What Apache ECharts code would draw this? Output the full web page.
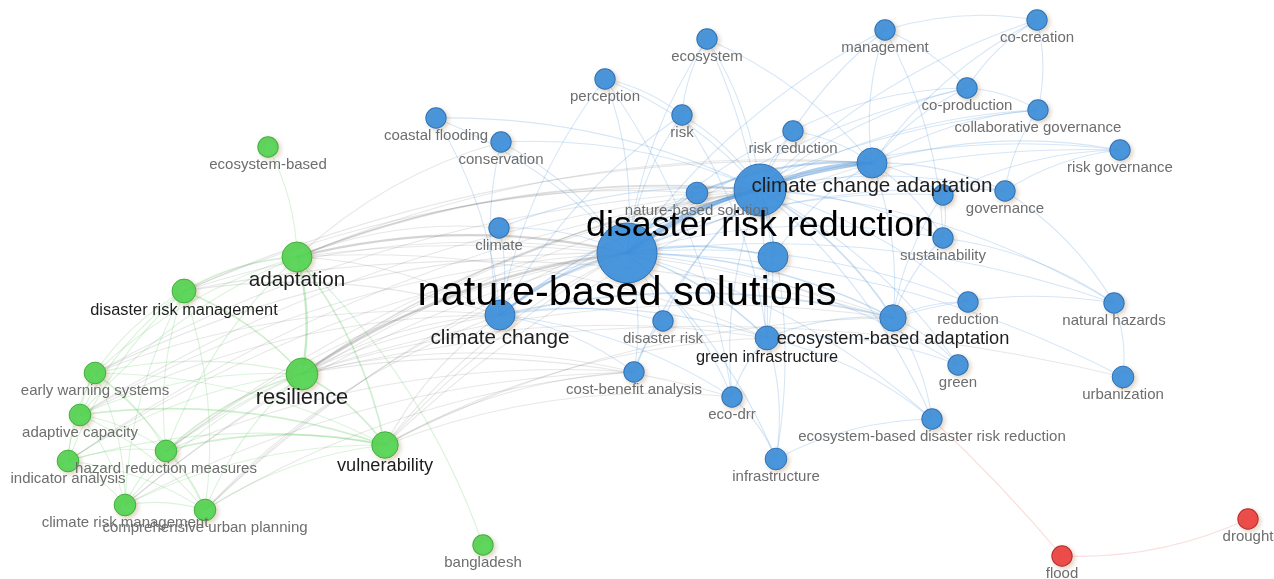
<!DOCTYPE html>
<html><head><meta charset="utf-8">
<script src="https://cdn.jsdelivr.net/npm/echarts@6/dist/echarts.min.js"></script>
<style>html,body{margin:0;padding:0;background:#fff}#c{width:1274px;height:579px}</style>
</head><body><div id="c"></div><script>
// ---- DATA (map coordinates, occurrences, clusters) ----
const nodeNames = [
  'nature-based solutions','disaster risk reduction','climate change adaptation','climate change',
  'ecosystem-based adaptation','green infrastructure','nature-based solution','unlabeled-1','unlabeled-2',
  'ecosystem','management','co-creation','perception','co-production','collaborative governance',
  'coastal flooding','risk','conservation','risk reduction','risk governance','governance','climate',
  'sustainability','reduction','natural hazards','disaster risk','green','urbanization',
  'cost-benefit analysis','eco-drr','ecosystem-based disaster risk reduction','infrastructure',
  'adaptation','resilience','vulnerability','disaster risk management','ecosystem-based',
  'early warning systems','adaptive capacity','hazard reduction measures','indicator analysis',
  'climate risk management','comprehensive urban planning','bangladesh',
  'flood','drought'
];
const nodeX = [627,760,872,500,893,767,697,773,943,707,885,1037,605,967,1038,436,682,501,793,1120,1005,499,943,968,1114,663,958,1123,634,732,932,776,297,302,385,184,268,95,80,166,68,125,205,483,1062,1248];
const nodeY = [253,190,163,315,318,338,193,257,195,39,30,20,79,88,110,118,115,142,131,150,191,228,238,302,303,321,365,377,372,397,419,459,257,374,445,291,147,373,415,451,461,505,510,545,556,519];
const nodeCluster = [1,1,1,1,1,1,1,1,1,1,1,1,1,1,1,1,1,1,1,1,1,1,1,1,1,1,1,1,1,1,1,1,2,2,2,2,2,2,2,2,2,2,2,2,3,3];
const nodeOcc = [100,69,14,14,9,6,4,14,3,3,3,3,3,3,3,3,3,3,3,3,3,3,3,3,3,3,3,4,3,3,3,4,14,17,9,6,3,4,4,4,4,4,4,3,3,3];
const nodeLabelShown = nodeNames.map(n => !n.startsWith('unlabeled'));

const links = [
  // green cluster
  ['adaptation','disaster risk management',2],['adaptation','resilience',3],['adaptation','vulnerability',2],
  ['adaptation','ecosystem-based',1],['adaptation','early warning systems',1],['adaptation','adaptive capacity',1],
  ['adaptation','hazard reduction measures',1],['adaptation','bangladesh',1],
  ['resilience','disaster risk management',2],['resilience','vulnerability',2],['resilience','early warning systems',1],
  ['resilience','adaptive capacity',1],['resilience','hazard reduction measures',2],['resilience','indicator analysis',1],
  ['resilience','climate risk management',1],['resilience','comprehensive urban planning',1],
  ['vulnerability','adaptive capacity',2],['vulnerability','hazard reduction measures',2],['vulnerability','indicator analysis',1],
  ['vulnerability','early warning systems',1],['vulnerability','climate risk management',1],['vulnerability','comprehensive urban planning',1],
  ['disaster risk management','early warning systems',1],['disaster risk management','adaptive capacity',1],
  ['disaster risk management','hazard reduction measures',1],['disaster risk management','indicator analysis',1],
  ['disaster risk management','climate risk management',1],['disaster risk management','comprehensive urban planning',1],
  ['early warning systems','adaptive capacity',1],['early warning systems','hazard reduction measures',1],
  ['early warning systems','indicator analysis',1],['early warning systems','climate risk management',1],
  ['early warning systems','comprehensive urban planning',1],['adaptive capacity','hazard reduction measures',1],
  ['adaptive capacity','indicator analysis',1],['adaptive capacity','climate risk management',1],
  ['adaptive capacity','comprehensive urban planning',1],['hazard reduction measures','indicator analysis',1],
  ['hazard reduction measures','climate risk management',1],['hazard reduction measures','comprehensive urban planning',1],
  ['indicator analysis','climate risk management',1],['indicator analysis','comprehensive urban planning',1],
  ['climate risk management','comprehensive urban planning',1],
  // between clusters
  ['adaptation','nature-based solutions',3],['adaptation','disaster risk reduction',2],['adaptation','climate change adaptation',1],
  ['adaptation','climate change',1],['adaptation','ecosystem-based adaptation',1],['adaptation','climate',1],
  ['adaptation','green infrastructure',1],['adaptation','conservation',1],['adaptation','nature-based solution',1],
  ['resilience','nature-based solutions',3],['resilience','disaster risk reduction',2],['resilience','climate change',1],
  ['resilience','green infrastructure',1],['resilience','urbanization',1],['resilience','climate change adaptation',1],
  ['resilience','ecosystem-based adaptation',1],['resilience','cost-benefit analysis',1],['resilience','eco-drr',1],
  ['vulnerability','nature-based solutions',1],['vulnerability','disaster risk reduction',1],['vulnerability','climate change',1],
  ['vulnerability','climate change adaptation',1],['vulnerability','ecosystem-based adaptation',1],
  ['vulnerability','green infrastructure',1],['vulnerability','eco-drr',1],
  ['disaster risk management','nature-based solutions',1],['disaster risk management','disaster risk reduction',1],
  ['disaster risk management','climate change',1],['disaster risk management','climate change adaptation',1],
  ['disaster risk management','ecosystem-based adaptation',1],
  ['early warning systems','disaster risk reduction',1],['early warning systems','nature-based solutions',1],
  ['early warning systems','climate change',1],
  ['adaptive capacity','nature-based solutions',1],['adaptive capacity','disaster risk reduction',1],['adaptive capacity','climate change',1],
  ['hazard reduction measures','disaster risk reduction',1],['hazard reduction measures','nature-based solutions',1],
  ['hazard reduction measures','climate change',1],['hazard reduction measures','cost-benefit analysis',1],
  ['indicator analysis','nature-based solutions',1],['indicator analysis','disaster risk reduction',1],
  ['climate risk management','disaster risk reduction',1],['climate risk management','nature-based solutions',1],
  ['climate risk management','cost-benefit analysis',1],
  ['comprehensive urban planning','nature-based solutions',1],['comprehensive urban planning','disaster risk reduction',1],
  ['comprehensive urban planning','climate change',1],['comprehensive urban planning','cost-benefit analysis',1],
  ['vulnerability','cost-benefit analysis',1],
  // blue cluster
  ['nature-based solutions','disaster risk reduction',6],['disaster risk reduction','climate change adaptation',4],
  ['nature-based solutions','climate change adaptation',3],['nature-based solutions','nature-based solution',2],
  ['nature-based solution','climate change adaptation',3],['nature-based solutions','climate change',3],
  ['climate change','ecosystem-based adaptation',2],['nature-based solutions','ecosystem-based adaptation',2],
  ['nature-based solutions','unlabeled-1',2],['disaster risk reduction','unlabeled-1',2],
  ['nature-based solutions','green infrastructure',2],['disaster risk reduction','green infrastructure',1],
  ['disaster risk reduction','ecosystem-based adaptation',2],['climate change adaptation','unlabeled-2',1],
  ['climate change adaptation','governance',1],['climate change adaptation','co-production',1],
  ['climate change adaptation','co-creation',1],['climate change adaptation','collaborative governance',1],
  ['climate change adaptation','management',1],['climate change adaptation','risk governance',1],
  ['climate change adaptation','risk reduction',1],['climate change adaptation','sustainability',1],
  ['climate change adaptation','ecosystem-based adaptation',1],['climate change adaptation','climate change',1],
  ['disaster risk reduction','risk reduction',1],['disaster risk reduction','risk',1],['disaster risk reduction','ecosystem',1],
  ['disaster risk reduction','perception',1],['disaster risk reduction','management',1],['disaster risk reduction','co-production',1],
  ['disaster risk reduction','governance',1],['disaster risk reduction','sustainability',1],['disaster risk reduction','reduction',1],
  ['disaster risk reduction','natural hazards',1],['disaster risk reduction','disaster risk',1],
  ['disaster risk reduction','cost-benefit analysis',1],['disaster risk reduction','eco-drr',1],
  ['disaster risk reduction','infrastructure',1],['disaster risk reduction','green',1],
  ['disaster risk reduction','ecosystem-based disaster risk reduction',1],['disaster risk reduction','climate',1],
  ['disaster risk reduction','conservation',1],['disaster risk reduction','coastal flooding',1],
  ['disaster risk reduction','climate change',2],['disaster risk reduction','collaborative governance',1],
  ['disaster risk reduction','risk governance',1],['disaster risk reduction','co-creation',1],
  ['nature-based solutions','ecosystem',1],['nature-based solutions','perception',1],['nature-based solutions','risk',1],
  ['nature-based solutions','conservation',1],['nature-based solutions','coastal flooding',1],['nature-based solutions','climate',1],
  ['nature-based solutions','disaster risk',1],['nature-based solutions','cost-benefit analysis',1],
  ['nature-based solutions','eco-drr',1],['nature-based solutions','infrastructure',1],['nature-based solutions','green',1],
  ['nature-based solutions','ecosystem-based disaster risk reduction',1],['nature-based solutions','reduction',1],
  ['nature-based solutions','natural hazards',1],['nature-based solutions','sustainability',1],
  ['nature-based solutions','governance',1],['nature-based solutions','co-production',1],
  ['nature-based solutions','management',1],['nature-based solutions','risk reduction',1],
  ['nature-based solutions','urbanization',1],['nature-based solutions','risk governance',1],
  ['nature-based solutions','unlabeled-2',1],['nature-based solutions','collaborative governance',1],
  ['management','co-creation',1],['co-creation','co-production',1],['co-creation','collaborative governance',1],
  ['co-production','collaborative governance',1],['management','co-production',1],
  ['collaborative governance','governance',1],['risk governance','governance',1],['risk governance','unlabeled-2',1],
  ['governance','unlabeled-2',1],['ecosystem-based adaptation','ecosystem-based disaster risk reduction',1],
  ['ecosystem-based adaptation','green',1],['ecosystem-based adaptation','reduction',1],
  ['ecosystem-based adaptation','natural hazards',1],['ecosystem-based adaptation','sustainability',1],
  ['green infrastructure','infrastructure',1],['green infrastructure','eco-drr',1],
  ['green infrastructure','ecosystem-based disaster risk reduction',1],['green infrastructure','green',1],
  ['green infrastructure','ecosystem-based adaptation',1],['eco-drr','infrastructure',1],
  ['infrastructure','ecosystem-based disaster risk reduction',1],
  ['ecosystem','risk',1],['ecosystem','climate change adaptation',1],['perception','risk',1],['perception','climate change',1],
  ['conservation','climate change',1],['climate change','disaster risk',1],['climate change','cost-benefit analysis',1],
  ['natural hazards','governance',1],['natural hazards','sustainability',1],['urbanization','natural hazards',1],
  ['climate','climate change',1],['disaster risk','cost-benefit analysis',1],['risk','climate change',1],
  ['unlabeled-1','green infrastructure',1],['unlabeled-1','climate change adaptation',1],
  ['risk reduction','co-production',1],['management','sustainability',1],
  ['climate change','green infrastructure',1],['climate change','eco-drr',1],['coastal flooding','climate change',1],
  ['ecosystem','green infrastructure',1],['risk','green infrastructure',1],['perception','eco-drr',1],
  ['unlabeled-2','sustainability',1],['unlabeled-2','ecosystem-based adaptation',1],
  // red cluster
  ['ecosystem-based disaster risk reduction','flood',1],['flood','drought',1]
];

// ---- STYLE ----
const fill = {1:'rgba(60,144,222,0.92)', 2:'rgba(84,214,84,0.92)', 3:'rgba(238,64,64,0.92)'};
const border = {1:'#2b73bd', 2:'#3db23d', 3:'#b82a2a'};
const edgeRGB = {1:'60,135,210', 2:'80,195,80', 3:'235,90,90', x:'110,110,110'};
const radius = o => 6 + 2.4*Math.sqrt(o);
const idx = {}; nodeNames.forEach((n,i)=>idx[n]=i);

const order = nodeNames.map((n,i)=>i).sort((a,b)=>nodeOcc[a]-nodeOcc[b]);
const data = order.map(i=>{
  const r = radius(nodeOcc[i]);
  const fs = Math.max(15, 1.38*r);
  const dark = r >= 11.5;
  return {
    name: nodeNames[i],
    value: [nodeX[i], nodeY[i]],
    symbolSize: 2*r,
    itemStyle: {color: fill[nodeCluster[i]], borderColor: border[nodeCluster[i]], borderWidth: 1,
      shadowBlur: 4, shadowOffsetX: 2, shadowOffsetY: 2, shadowColor: 'rgba(150,110,60,0.3)'},
    label: {show: nodeLabelShown[i], position: 'bottom', distance: -(0.5*r - 4.5),
      fontSize: fs, lineHeight: fs, fontFamily: '"Liberation Sans", Arial, sans-serif',
      color: r > 20 ? '#000' : (dark ? '#1e1e1e' : '#6e6e6e')}
  };
});

const edges = links.map(([s,t,w])=>{
  const cs = nodeCluster[idx[s]], ct = nodeCluster[idx[t]];
  let key = cs===ct ? cs : 'x';
  if (cs!==ct && (cs===3||ct===3)) key = 3;
  const a = key==='x' ? Math.min(0.8, 0.2+0.13*w) : Math.min(0.9, 0.28+0.13*w);
  // draw every edge from its left end to its right end so the arcs bow consistently
  const leftFirst = nodeX[idx[s]] <= nodeX[idx[t]];
  const curve = (cs===3 && ct===3) ? -0.12 : (key===3 ? 0.03 : 0.12);
  return {source: leftFirst ? s : t, target: leftFirst ? t : s,
    lineStyle: {width: 0.5 + 0.6*w, color: 'rgba('+edgeRGB[key]+','+a+')', curveness: curve}};
});

const chart = echarts.init(document.getElementById('c'));
chart.setOption({
  backgroundColor: '#fff',
  animation: false,
  grid: {left: 0, right: 0, top: 0, bottom: 0},
  xAxis: {type: 'value', min: 0, max: 1274, show: false},
  yAxis: {type: 'value', min: 0, max: 579, inverse: true, show: false},
  series: [{
    type: 'graph', coordinateSystem: 'cartesian2d', layout: 'none', silent: true,
    data: data, links: edges,
    emphasis: {disabled: true}
  }]
});
</script></body></html>
